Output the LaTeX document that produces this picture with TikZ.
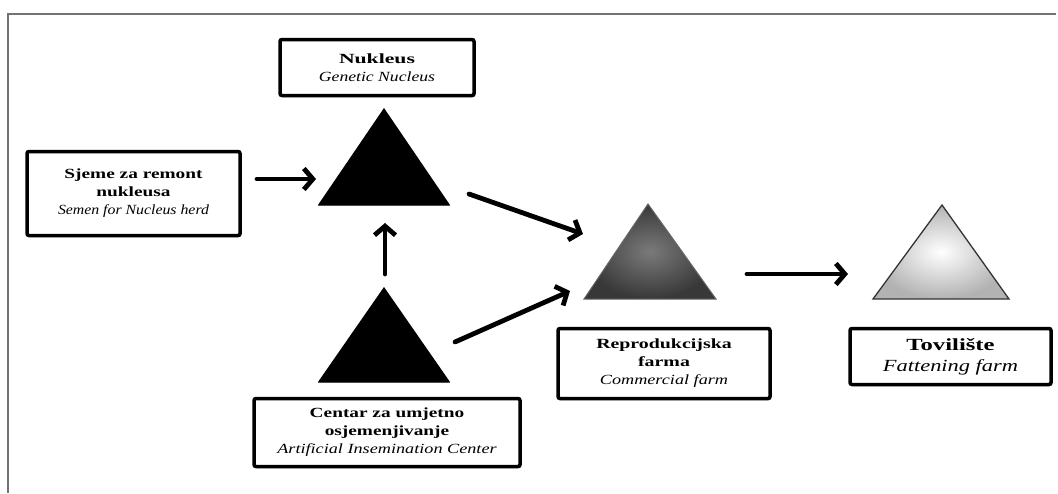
\documentclass[tikz,border=0pt]{standalone}
\usepackage{fontspec}
\setmainfont{Liberation Serif}
\usetikzlibrary{arrows.meta,shadows}
\newcommand{\bline}[2]{{\bfseries\addfontfeature{FakeStretch=#1}#2}}
\newcommand{\iline}[2]{{\itshape\addfontfeature{FakeStretch=#1}#2}}
\tikzset{
  infobox/.style={draw=black, line width=3.5pt, rounded corners=2pt, fill=white,
    align=center, inner sep=2pt, font=\fontsize{14}{18}\selectfont,
    drop shadow={shadow xshift=1.5pt, shadow yshift=-1.5pt, fill=black!45, opacity=0.6}},
  flow/.style={line width=4.8pt, -{Straight Barb[length=9pt,width=21pt]}, line cap=round},
  frameline/.style={draw=black!55, line width=1.3pt}
}
\begin{document}
\begin{tikzpicture}[x=1pt,y=-1pt]
\useasboundingbox (0,0) rectangle (1058,493);
% frame
\draw[frameline] (8,493) -- (8,14) -- (1056,14);

% triangles
\coordinate (tA1) at (318,205); \coordinate (tA2) at (450,205); \coordinate (tA3) at (384,108);
\coordinate (tB1) at (318,382); \coordinate (tB2) at (450,382); \coordinate (tB3) at (384,287);
\coordinate (tC1) at (584,299); \coordinate (tC2) at (716,299); \coordinate (tC3) at (648,204);
\coordinate (tD1) at (873,299); \coordinate (tD2) at (1009,299); \coordinate (tD3) at (942,205);

\fill[black] (tA1) -- (tA2) -- (tA3) -- cycle;
\draw[black!70, line width=1pt] (tA1) -- (tA2);
\fill[black] (tB1) -- (tB2) -- (tB3) -- cycle;
\draw[black!70, line width=1pt] (tB1) -- (tB2);
\shade[inner color=black!52, outer color=black!78] (tC1) -- (tC2) -- (tC3) -- cycle;
\draw[black!60, line width=1pt] (tC1) -- (tC2) -- (tC3) -- cycle;
\shade[inner color=white, outer color=black!30] (tD1) -- (tD2) -- (tD3) -- cycle;
\draw[black!80, line width=1.3pt] (tD1) -- (tD2) -- (tD3) -- cycle;

% boxes
\node[infobox, minimum width=194pt, minimum height=56pt] (nuk) at (377,67.5)
  {\bline{1.55}{Nukleus}\\\iline{1.26}{Genetic Nucleus}};
\node[infobox, minimum width=213pt, minimum height=84pt] (sjeme) at (133.5,193.5)
  {\bline{1.38}{Sjeme za remont}\\\bline{1.38}{nukleusa}\\\iline{1.13}{Semen for Nucleus herd}};
\node[infobox, minimum width=266pt, minimum height=68pt] (centar) at (387,432.5)
  {\bline{1.38}{Centar za umjetno}\\\bline{1.38}{osjemenjivanje}\\\iline{1.3}{Artificial Insemination Center}};
\node[infobox, minimum width=212pt, minimum height=70pt] (repro) at (664,363.5)
  {\bline{1.42}{Reprodukcijska}\\\bline{1.42}{farma}\\\iline{1.3}{Commercial farm}};
\node[infobox, minimum width=201pt, minimum height=56pt, font=\fontsize{17}{21}\selectfont] (tov) at (950.5,356.5)
  {\bline{1.45}{Tovilište}\\\iline{1.32}{Fattening farm}};

% arrow endpoints
\coordinate (a1s) at (257,179); \coordinate (a1e) at (316,179);
\coordinate (a2s) at (385,274); \coordinate (a2e) at (385,223);
\coordinate (a3s) at (469,194); \coordinate (a3e) at (583,234);
\coordinate (a4s) at (455,342); \coordinate (a4e) at (570,291);
\coordinate (a5s) at (747,274); \coordinate (a5e) at (848,274);

\draw[flow] (a1s) -- (a1e);
\draw[flow] (a2s) -- (a2e);
\draw[flow] (a3s) -- (a3e);
\draw[flow] (a4s) -- (a4e);
\draw[flow] (a5s) -- (a5e);
\end{tikzpicture}
\end{document}
